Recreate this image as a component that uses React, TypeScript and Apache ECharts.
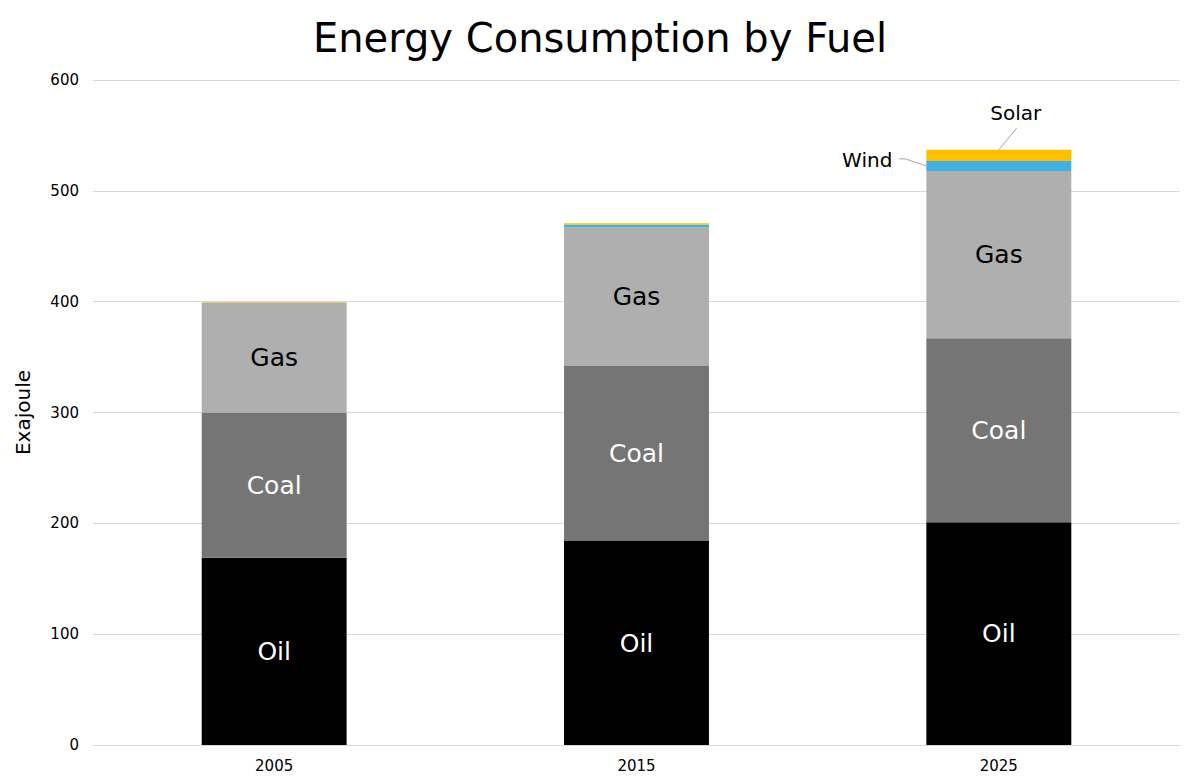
import React, { useEffect, useRef } from "react";
import * as echarts from "echarts";

const years = ["2005", "2015", "2025"];
const oil = [169, 184, 201];
const coal = [131, 158, 166];
const gas = [99, 125, 151];
const wind = [0.2, 2.5, 9];
const solar = [0.6, 1.2, 10];
const yTicks = { min: 0, max: 600, interval: 100 };

const FONT = "'DejaVu Sans', sans-serif";

export default function App() {
  const ref = useRef<HTMLDivElement>(null);
  useEffect(() => {
    document.body.style.margin = "0";
    const chart = echarts.init(ref.current!, null, { renderer: "svg" });
    const segLabel = (name: string, color: string) => ({
      show: true,
      position: "inside",
      formatter: name,
      color,
      fontSize: 25,
      fontFamily: FONT,
    });
    const last = years.length - 1;
    chart.setOption({
      animation: false,
      textStyle: { fontFamily: FONT },
      title: {
        text: "Energy Consumption by Fuel",
        left: "center",
        top: 13,
        textStyle: { fontSize: 40, fontWeight: "normal", color: "#000", fontFamily: FONT },
      },
      grid: { left: 93, right: 20, top: 80, bottom: 38 },
      xAxis: {
        type: "category",
        data: years,
        axisLine: { lineStyle: { color: "#d9d9d9" } },
        axisTick: { show: false },
        axisLabel: { color: "#000", fontSize: 15, margin: 13, fontFamily: FONT },
      },
      yAxis: {
        type: "value",
        min: yTicks.min,
        max: yTicks.max,
        interval: yTicks.interval,
        name: "Exajoule",
        nameLocation: "middle",
        nameGap: 60,
        nameTextStyle: { color: "#000", fontSize: 20, fontFamily: FONT },
        axisLine: { show: false },
        axisTick: { show: false },
        axisLabel: { color: "#000", fontSize: 15, margin: 14, fontFamily: FONT },
        splitLine: { lineStyle: { color: "#d9d9d9" } },
      },
      series: [
        { name: "Oil", type: "bar", stack: "e", barWidth: "40%", data: oil, itemStyle: { color: "#000000" }, label: segLabel("Oil", "#fff") },
        { name: "Coal", type: "bar", stack: "e", data: coal, itemStyle: { color: "#757575" }, label: segLabel("Coal", "#fff") },
        { name: "Gas", type: "bar", stack: "e", data: gas, itemStyle: { color: "#afafaf" }, label: segLabel("Gas", "#000") },
        {
          name: "Wind",
          type: "bar",
          stack: "e",
          data: wind.map((v, i) =>
            i === last
              ? {
                  value: v,
                  label: { show: true, position: "left", distance: 34, offset: [0, -6], formatter: "Wind", color: "#000", fontSize: 20, fontFamily: FONT },
                }
              : v
          ),
          itemStyle: { color: "#41afe0" },
        },
        {
          name: "Solar",
          type: "bar",
          stack: "e",
          data: solar.map((v, i) =>
            i === last
              ? {
                  value: v,
                  label: { show: true, position: "top", distance: 27, offset: [17, 0], formatter: "Solar", color: "#000", fontSize: 20, fontFamily: FONT },
                }
              : v
          ),
          itemStyle: { color: "#ffc000" },
        },
      ],
    });

    // leader lines for the Wind / Solar labels, placed from the axis scales
    const grid = { xAxisIndex: 0, yAxisIndex: 0 };
    const c0 = chart.convertToPixel(grid, [0, 0]) as number[];
    const c1 = chart.convertToPixel(grid, [1, 0]) as number[];
    const half = ((c1[0] - c0[0]) * 0.4) / 2;
    const below = oil[last] + coal[last] + gas[last];
    const windMid = chart.convertToPixel(grid, [last, below + wind[last] / 2]) as number[];
    const solarTop = chart.convertToPixel(grid, [last, below + wind[last] + solar[last]]) as number[];
    const left = windMid[0] - half;
    const lineStyle = { stroke: "#a6a6a6", lineWidth: 1, fill: null };
    chart.setOption({
      graphic: [
        {
          type: "polyline",
          shape: { points: [[left - 27, windMid[1] - 7], [left - 21, windMid[1] - 7], [left, windMid[1]]] },
          style: lineStyle,
          silent: true,
        },
        {
          type: "line",
          shape: { x1: solarTop[0], y1: solarTop[1], x2: solarTop[0] + 18, y2: solarTop[1] - 22 },
          style: lineStyle,
          silent: true,
        },
      ],
    });
    return () => chart.dispose();
  }, []);
  return <div ref={ref} style={{ width: 1200, height: 783 }} />;
}
